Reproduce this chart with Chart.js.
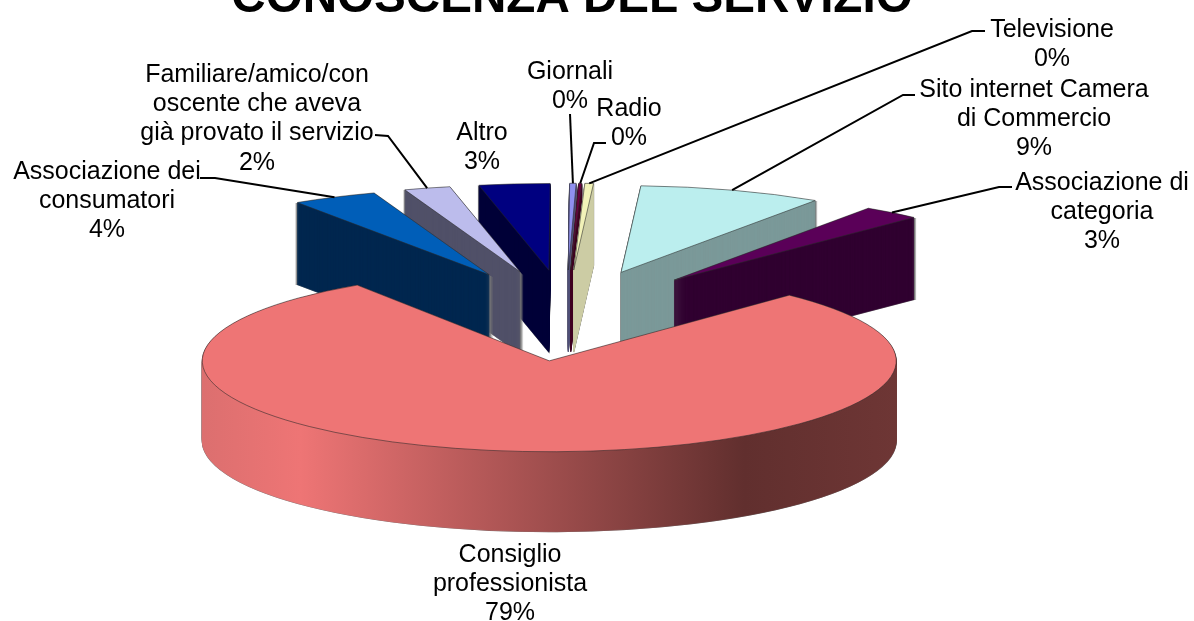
<!DOCTYPE html>
<html><head><meta charset="utf-8">
<style>html,body{margin:0;padding:0;background:#fff}canvas{display:block}</style>
<script src="https://cdn.jsdelivr.net/npm/chart.js@4"></script>
</head><body><canvas id="c" width="1194" height="621"></canvas>
<script>
const titleText = 'CONOSCENZA DEL SERVIZIO';
const categories = ['Associazione dei consumatori','Familiare/amico/conoscente che aveva già provato il servizio','Altro','Giornali','Radio','Televisione','Sito internet Camera di Commercio','Associazione di categoria','Consiglio professionista'];
const values = [3.95,2.15,3.3,0.3,0.15,0.4,8.55,2.7,78.55];
const topColors = ['#005EB8','#BCBCEC','#000080','#9090F0','#6A0040','#F2F2B8','#BBEEEE','#5A0058','#EE7575'];
const wallColors = ['#00274F','#505068','#000038','#505078','#400020','#CCCCA4','#7B9999','#300030',null];
const labelLines = [['Associazione dei','consumatori'],['Familiare/amico/con','oscente che aveva','già provato il servizio'],['Altro'],['Giornali'],['Radio'],['Televisione'],['Sito internet Camera','di Commercio'],['Associazione di','categoria'],['Consiglio','professionista']];
const labelAnchor = [[107,179],[257,82],[482,140],[570,79],[629,116],[1052,37],[1034,97],[1102,190],[510,562]];
const leaderElbow = [[[200,178],[215,178]],[[375,135],[388,136]],null,[[570,114]],[[606,143],[594,143]],[[985,31],[972,31]],[[915,95],[903,95]],[[1012,187],[999,187]],null];
const drawOrder = [3,4,5,2,1,0,6,7,8];
const rotationDeg = -33.6, radius = 347, centre = [566,315.5], explode = 172, explodeY = 45.5;
const squashFront = 0.262, squashBack = 0.25, depthFront = 80, depthBack = 82, frontShiftX = -1.5;
const bigIndex = 8;

function place(ctx, a, i){
  const h=(a.startAngle+a.endAngle)/2, sq=i===bigIndex?squashFront:squashBack;
  ctx.translate(centre[0]+Math.cos(h)*explode+(i===bigIndex?frontShiftX:0), centre[1]+Math.sin(h)*explodeY);
  ctx.scale(1,sq); ctx.translate(-a.x,-a.y);
}
function path(ctx,a){ctx.beginPath();ctx.moveTo(a.x,a.y);ctx.arc(a.x,a.y,a.outerRadius,a.startAngle,a.endAngle);ctx.closePath();}
function drawWall(ctx,a,i,fill,stroke){
  const depth=i===bigIndex?depthFront:depthBack;
  for(let d=depth;d>=1;d--){
    ctx.save();ctx.translate(0,d);place(ctx,a,i);path(ctx,a);
    ctx.restore();
    if(stroke){ctx.strokeStyle=stroke;ctx.lineWidth=1.2;ctx.stroke();}
    else{ctx.fillStyle=fill;ctx.strokeStyle=fill;ctx.lineWidth=0.6;ctx.fill();ctx.stroke();}
  }
}
const pie3d={id:'pie3d',beforeDatasetsDraw(chart){
  const ctx=chart.ctx, arcs=chart.getDatasetMeta(0).data;
  const grad=ctx.createLinearGradient(203,0,897,0);
  grad.addColorStop(0,'#DC6F6F');grad.addColorStop(0.14,'#EE7575');grad.addColorStop(0.78,'#612F2E');grad.addColorStop(1,'#6E3635');
  drawOrder.forEach(i=>{
    const a=arcs[i];
    drawWall(ctx,a,i,null,'#777');
    drawWall(ctx,a,i,i===bigIndex?grad:wallColors[i],null);
    ctx.save();place(ctx,a,i);a.draw(ctx);path(ctx,a);ctx.restore();
    ctx.strokeStyle='rgba(40,40,40,0.7)';ctx.lineWidth=0.8;ctx.stroke();
  });
  return false;
},afterDraw(chart){
  const ctx=chart.ctx, arcs=chart.getDatasetMeta(0).data;
  const total=values.reduce((s,v)=>s+v,0);
  ctx.save();
  ctx.fillStyle='#000';ctx.textAlign='center';ctx.textBaseline='alphabetic';
  ctx.font='bold 47.6px "Liberation Sans"';ctx.fillText(titleText,572,12);
  ctx.font='25px "Liberation Sans"';
  arcs.forEach((a,i)=>{
    const lines=[...labelLines[i],Math.round(values[i]/total*100)+'%'];
    lines.forEach((t,k)=>ctx.fillText(t,labelAnchor[i][0],labelAnchor[i][1]+k*29.2));
    const el=leaderElbow[i];
    if(el){
      const h=(a.startAngle+a.endAngle)/2;
      const ax=centre[0]+Math.cos(h)*explode, ay=centre[1]+Math.sin(h)*explodeY;
      ctx.beginPath();ctx.moveTo(el[0][0],el[0][1]);
      el.forEach(p=>ctx.lineTo(p[0],p[1]));
      ctx.lineTo(ax+Math.cos(h)*a.outerRadius, ay+Math.sin(h)*a.outerRadius*squashBack);
      ctx.strokeStyle='#000';ctx.lineWidth=2;ctx.stroke();
    }
  });
  ctx.restore();
}};
new Chart(document.getElementById('c'),{
  type:'pie',
  data:{labels:categories,datasets:[{data:values,backgroundColor:topColors,borderWidth:0,radius:radius,clip:false}]},
  options:{responsive:false,animation:false,rotation:rotationDeg,
    plugins:{legend:{display:false},tooltip:{enabled:false},title:{display:false}},events:[]},
  plugins:[pie3d]
});
</script></body></html>
